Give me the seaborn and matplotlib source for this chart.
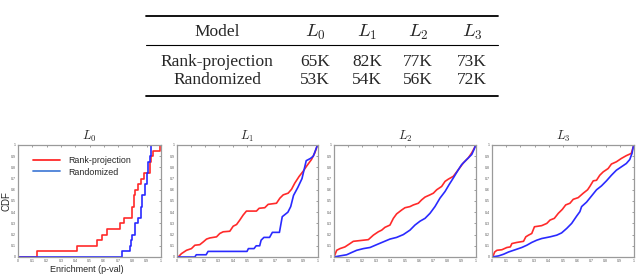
import matplotlib
matplotlib.use("Agg")
import matplotlib.pyplot as plt
import seaborn as sns
import pandas as pd
from matplotlib.lines import Line2D

sns.set_style("white")
plt.rcParams['font.family'] = ['Liberation Sans', 'DejaVu Sans']
plt.rcParams['mathtext.fontset'] = 'cm'

# ---------------- table data ----------------
table_models = ["Rank-projection", "Randomized"]
table_layers = ["$L_0$", "$L_1$", "$L_2$", "$L_3$"]
table_rank = ["65K", "82K", "77K", "73K"]
table_rand = ["53K", "54K", "56K", "72K"]

# ---------------- CDF curves ----------------
panel_titles = ["$L_0$", "$L_1$", "$L_2$", "$L_3$"]

l0_rank_x = [0, 0.13, 0.41, 0.55, 0.59, 0.62, 0.71, 0.74, 0.80, 0.81, 0.82, 0.84, 0.86, 0.88, 0.92, 0.93, 0.945, 0.99, 1.0]
l0_rank_y = [0, 0.05, 0.10, 0.15, 0.20, 0.25, 0.30, 0.35, 0.45, 0.55, 0.60, 0.65, 0.70, 0.75, 0.85, 0.90, 0.95, 1.0, 1.0]
l0_rand_x = [0, 0.73, 0.78, 0.79, 0.80, 0.82, 0.84, 0.86, 0.865, 0.885, 0.90, 0.91, 0.92, 0.93, 1.0]
l0_rand_y = [0, 0.05, 0.10, 0.15, 0.20, 0.30, 0.35, 0.45, 0.55, 0.65, 0.75, 0.85, 0.90, 1.0, 1.0]

l1_rank_x = [0, 0.012, 0.035, 0.071, 0.106, 0.13, 0.165, 0.19, 0.213, 0.236, 0.284, 0.307, 0.331, 0.378, 0.402, 0.426, 0.449, 0.473, 0.496, 0.567, 0.586, 0.626, 0.65, 0.709, 0.733, 0.757, 0.792, 0.816, 0.839, 0.87, 0.898, 0.922, 0.957, 0.981, 1.0]
l1_rank_y = [0, 0.0, 0.03, 0.06, 0.075, 0.105, 0.11, 0.135, 0.16, 0.17, 0.18, 0.21, 0.225, 0.23, 0.275, 0.29, 0.33, 0.375, 0.41, 0.41, 0.435, 0.44, 0.47, 0.48, 0.525, 0.555, 0.57, 0.605, 0.66, 0.72, 0.765, 0.81, 0.87, 0.93, 1.0]
l1_rand_x = [0, 0.13, 0.14, 0.21, 0.224, 0.5, 0.51, 0.55, 0.565, 0.59, 0.60, 0.62, 0.66, 0.68, 0.73, 0.75, 0.79, 0.81, 0.83, 0.86, 0.89, 0.92, 0.95, 0.97, 1.0]
l1_rand_y = [0, 0, 0.02, 0.02, 0.05, 0.05, 0.075, 0.075, 0.10, 0.10, 0.15, 0.175, 0.175, 0.22, 0.22, 0.36, 0.40, 0.45, 0.55, 0.62, 0.70, 0.86, 0.88, 0.90, 1.0]

l2_rank_x = [0, 0.019, 0.042, 0.077, 0.113, 0.136, 0.207, 0.242, 0.277, 0.312, 0.336, 0.359, 0.394, 0.418, 0.441, 0.477, 0.5, 0.535, 0.559, 0.594, 0.617, 0.641, 0.676, 0.7, 0.723, 0.758, 0.782, 0.805, 0.84, 0.876, 0.911, 0.946, 0.97, 0.998]
l2_rank_y = [0, 0.06, 0.075, 0.09, 0.12, 0.14, 0.15, 0.155, 0.195, 0.225, 0.24, 0.265, 0.285, 0.345, 0.385, 0.42, 0.44, 0.45, 0.465, 0.48, 0.51, 0.535, 0.555, 0.57, 0.60, 0.63, 0.675, 0.695, 0.72, 0.78, 0.84, 0.885, 0.93, 0.995]
l2_rand_x = [0, 0.042, 0.089, 0.124, 0.16, 0.207, 0.254, 0.30, 0.347, 0.394, 0.441, 0.488, 0.535, 0.57, 0.606, 0.641, 0.676, 0.711, 0.746, 0.782, 0.81, 0.84, 0.876, 0.899, 0.934, 0.97, 0.986, 0.998]
l2_rand_y = [0, 0.01, 0.02, 0.04, 0.06, 0.075, 0.085, 0.11, 0.135, 0.16, 0.175, 0.20, 0.24, 0.285, 0.32, 0.345, 0.39, 0.45, 0.525, 0.585, 0.645, 0.705, 0.78, 0.825, 0.87, 0.915, 0.96, 1.0]

l3_rank_x = [0, 0.005, 0.019, 0.035, 0.07, 0.105, 0.129, 0.14, 0.175, 0.222, 0.238, 0.257, 0.28, 0.299, 0.35, 0.386, 0.409, 0.439, 0.467, 0.495, 0.519, 0.549, 0.572, 0.607, 0.643, 0.673, 0.689, 0.713, 0.736, 0.759, 0.783, 0.818, 0.841, 0.876, 0.911, 0.946, 0.981, 0.995, 1.0]
l3_rank_y = [0, 0, 0.045, 0.06, 0.065, 0.085, 0.09, 0.12, 0.13, 0.14, 0.18, 0.195, 0.21, 0.27, 0.28, 0.30, 0.33, 0.345, 0.39, 0.425, 0.465, 0.48, 0.515, 0.53, 0.57, 0.60, 0.63, 0.68, 0.685, 0.73, 0.76, 0.79, 0.83, 0.85, 0.88, 0.905, 0.925, 0.985, 1.0]
l3_rand_x = [0, 0.047, 0.082, 0.117, 0.164, 0.21, 0.245, 0.28, 0.315, 0.35, 0.409, 0.456, 0.49, 0.526, 0.561, 0.596, 0.619, 0.631, 0.666, 0.701, 0.736, 0.771, 0.806, 0.841, 0.876, 0.911, 0.946, 0.97, 0.986, 0.995, 1.0]
l3_rand_y = [0, 0.01, 0.025, 0.045, 0.065, 0.085, 0.105, 0.13, 0.15, 0.165, 0.18, 0.195, 0.215, 0.255, 0.30, 0.365, 0.405, 0.45, 0.49, 0.545, 0.60, 0.635, 0.68, 0.73, 0.775, 0.805, 0.835, 0.87, 0.925, 0.985, 1.0]

curves = [
    (l0_rank_x, l0_rank_y, l0_rand_x, l0_rand_y, 'steps-post'),
    (l1_rank_x, l1_rank_y, l1_rand_x, l1_rand_y, 'default'),
    (l2_rank_x, l2_rank_y, l2_rand_x, l2_rand_y, 'default'),
    (l3_rank_x, l3_rank_y, l3_rand_x, l3_rand_y, 'default'),
]

RED = '#ff2a2a'
BLUE = '#2a2aff'

W, H = 640, 276
fig = plt.figure(figsize=(6.4, 2.76), dpi=100)

# ---------------- table ----------------
def fx(px):
    return px / W

def fy(py):
    return 1 - py / H

serif = ['Liberation Serif', 'DejaVu Serif']
tsize = 12.5
col_x = [217, 315, 367, 418, 472]
fig.text(fx(col_x[0]), fy(32), "Model", ha='center', va='center', family=serif, fontsize=tsize)
for i, lab in enumerate(table_layers):
    fig.text(fx(col_x[i + 1]), fy(32), lab, ha='center', va='center', fontsize=tsize + 1)
rows = [table_rank, table_rand]
row_y = [62, 80]
for r, (name, vals) in enumerate(zip(table_models, rows)):
    fig.text(fx(col_x[0]), fy(row_y[r]), name, ha='center', va='center', family=serif, fontsize=tsize)
    for i, v in enumerate(vals):
        fig.text(fx(col_x[i + 1]), fy(row_y[r]), v, ha='center', va='center', family=serif, fontsize=tsize)
for py, lw in [(16, 1.3), (45, 0.8), (96, 1.3)]:
    fig.add_artist(Line2D([fx(146), fx(498)], [fy(py), fy(py)], color='black', lw=lw))

# ---------------- CDF panels ----------------
axes_px = [(18, 161), (176.5, 317.5), (334, 476), (492, 634)]
top_px, bot_px = 145, 257
ticks = [i / 10 for i in range(11)]
ticklabels = ["0"] + [f"{t:.1f}" for t in ticks[1:-1]] + ["1"]

for k, ((l, r), (rx, ry, bx, by, ds)) in enumerate(zip(axes_px, curves)):
    ax = fig.add_axes([fx(l), fy(bot_px), (r - l) / W, (bot_px - top_px) / H])
    df_r = pd.DataFrame({'p': rx, 'cdf': ry})
    df_b = pd.DataFrame({'p': bx, 'cdf': by})
    sns.lineplot(data=df_r, x='p', y='cdf', ax=ax, color=RED, lw=1.2, sort=False,
                 estimator=None, drawstyle=ds, label='Rank-projection' if k == 0 else None)
    sns.lineplot(data=df_b, x='p', y='cdf', ax=ax, color=BLUE, lw=1.2, sort=False,
                 estimator=None, drawstyle=ds, label='Randomized' if k == 0 else None)
    ax.set_xlim(0, 1)
    ax.set_ylim(0, 1)
    ax.set_xticks(ticks)
    ax.set_yticks(ticks)
    ax.set_xticklabels(ticklabels)
    ax.set_yticklabels(ticklabels)
    ax.tick_params(direction='in', length=1.5, width=0.4, labelsize=2.5, pad=1.5,
                   colors='#555555', top=True, right=True)
    for s in ax.spines.values():
        s.set_color('#9a9a9a')
        s.set_linewidth(0.9)
    ax.set_xlabel("")
    ax.set_ylabel("")
    ax.set_title(panel_titles[k], fontsize=9, pad=4)
    if k == 0:
        ax.set_ylabel("CDF", fontsize=7)
        ax.yaxis.set_label_coords(-0.045, 0.5)
        ax.set_xlabel("Enrichment (p-val)", fontsize=6.5)
        ax.xaxis.set_label_coords(0.48, -0.07)
        leg = ax.legend(loc='upper left', frameon=False, fontsize=6.4,
                        bbox_to_anchor=(0.05, 0.97), handlelength=3.0, handletextpad=1.0,
                        labelspacing=0.25)
        leg.get_lines()[1].set_color('#4a80d8')
        for ln in leg.get_lines():
            ln.set_linewidth(1.3)
    else:
        if ax.get_legend() is not None:
            ax.get_legend().remove()

fig.savefig("out.png", dpi=100)
